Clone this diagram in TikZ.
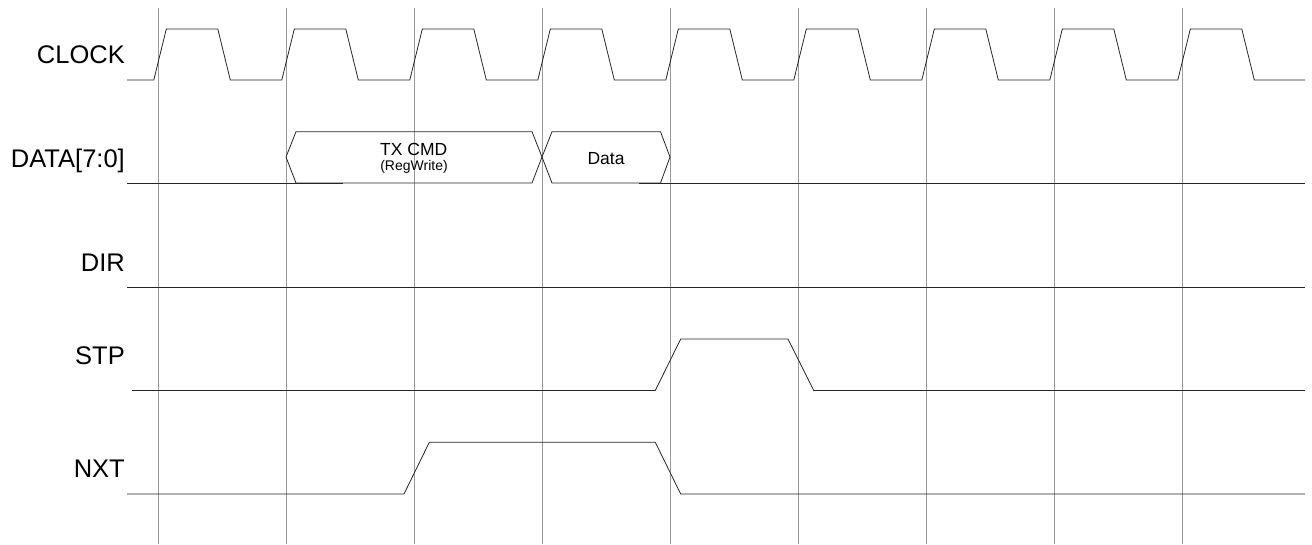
\documentclass[tikz,border=0pt]{standalone}
\usepackage{fontspec}
\setmainfont{Liberation Sans}
\begin{document}
\begin{tikzpicture}[x=1pt,y=-1pt,
  gridline/.style={draw=black!40, line width=0.8pt},
  wave/.style={draw=black!85, line width=0.8pt, line join=miter},
  lbl/.style={anchor=base east, inner sep=0pt, font=\fontsize{25.5}{30}\selectfont},
  busbig/.style={anchor=base, inner sep=0pt, font=\fontsize{17.5}{20}\selectfont},
  bussmall/.style={anchor=base, inner sep=0pt, font=\fontsize{14}{16}\selectfont}]
\useasboundingbox (0,0) rectangle (1312,544);
% grid
\foreach \k in {0,...,8} \draw[gridline] ({158.3+128*\k},8) -- ({158.3+128*\k},544);
% labels
\node[lbl] (lclk) at (125,63.3) {CLOCK};
\node[lbl] (ldata) at (125,167.7) {DATA[7:0]};
\node[lbl] (ldir) at (125,271) {DIR};
\node[lbl] (lstp) at (125,364.7) {STP};
\node[lbl] (lnxt) at (125,477.3) {NXT};
% clock
\draw[wave] (127,80) foreach \k in {0,...,8} {
  -- ({158.3+128*\k-4.5},80) -- ({158.3+128*\k+8},29)
  -- ({158.3+128*\k+59.5},29) -- ({158.3+128*\k+72},80) } -- (1305,80);
% data bus
\draw[wave] (127,183) -- (343,183);
\draw[wave] (639,183) -- (1305,183);
\draw[wave] (286,157) -- (296,131.7) -- (532,131.7) -- (542,157) -- (532,183) -- (296,183) -- cycle;
\draw[wave] (542,157) -- (552,131.7) -- (660.5,131.7) -- (670,157) -- (660.5,183) -- (552,183) -- cycle;
\node[busbig] (tx) at (413.7,155.7) {TX CMD};
\node[bussmall] (rw) at (414,170.3) {(RegWrite)};
\node[busbig] (dt) at (606,164) {Data};
% DIR
\draw[wave] (127,287.3) -- (1305,287.3);
% STP
\draw[wave] (132,390.5) -- (655.3,390.5) -- (680.7,339) -- (788,339) -- (813.7,390.5) -- (1305,390.5);
% NXT
\draw[wave] (127,494) -- (404,494) -- (429.3,442.3) -- (655.3,442.3) -- (680.7,494) -- (1305,494);
\end{tikzpicture}
\end{document}
